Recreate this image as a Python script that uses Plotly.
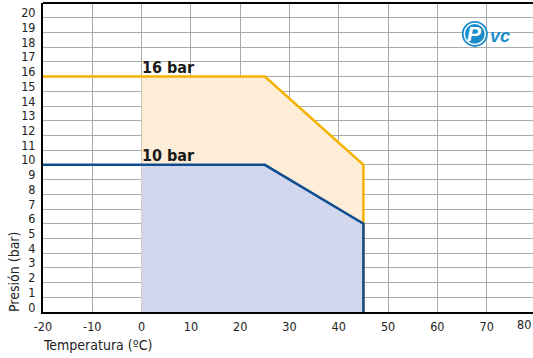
import plotly.graph_objects as go

# Data
temp_16 = [-20, 25, 45, 45]
pres_16 = [16, 16, 10, 0]
temp_10 = [-20, 25, 45, 45]
pres_10 = [10, 10, 6, 0]
fill_16_x = [0, 25, 45, 45, 0]
fill_16_y = [16, 16, 10, 0, 0]
fill_10_x = [0, 25, 45, 45, 0]
fill_10_y = [10, 10, 6, 0, 0]
x_ticks = [-20, -10, 0, 10, 20, 30, 40, 50, 60, 70, 80]
x_tick_text = ["-20", "-10", "0", "10", "20", "30", "40", "50", "60", "70", "80"]
y_ticks = list(range(0, 21))
labels = ["16 bar", "10 bar"]
label_y = [16, 10]

FONT = "DejaVu Sans Condensed, Liberation Sans Narrow, Arial Narrow, sans-serif"
ORANGE = "#F6B200"
BLUE = "#0E4D8F"
LABEL_OFFSET = 0.33  # y tick labels sit slightly above their grid lines
X_MAX = 79.4

fig = go.Figure()
fig.add_trace(go.Scatter(x=fill_16_x, y=fill_16_y, fill="toself", fillcolor="#FDEDD6",
                         line=dict(width=0), mode="lines", hoverinfo="skip"))
fig.add_trace(go.Scatter(x=fill_10_x, y=fill_10_y, fill="toself", fillcolor="#D3D7EE",
                         line=dict(width=0), mode="lines", hoverinfo="skip"))
fig.add_trace(go.Scatter(x=temp_16, y=pres_16, mode="lines", line=dict(color=ORANGE, width=2.5)))
fig.add_trace(go.Scatter(x=temp_10, y=pres_10, mode="lines", line=dict(color=BLUE, width=2.5)))

for t, yv in zip(labels, label_y):
    fig.add_annotation(x=0, y=yv, text="<b>" + t + "</b>", showarrow=False, xanchor="left", yanchor="bottom",
                       xshift=-2, yshift=-2, font=dict(family=FONT, size=16, color="#1a1a1a"))

# Last tick label at the right edge
fig.add_annotation(xref="paper", yref="paper", x=1, y=0, xshift=0, yshift=-12, text=x_tick_text[-1],
                   showarrow=False, xanchor="right", yanchor="middle", font=dict(family=FONT, size=12.5, color="#222"))

# Axis titles
fig.add_annotation(xref="paper", yref="paper", x=0, y=0, yshift=-33, text="Temperatura (ºC)", showarrow=False,
                   xanchor="left", yanchor="middle", xshift=-2, font=dict(family=FONT, size=14, color="#222"))
fig.add_annotation(xref="paper", yref="paper", x=0, y=0, text="Presión (bar)", showarrow=False, textangle=-90,
                   xanchor="center", yanchor="bottom", xshift=-29, yshift=-2,
                   font=dict(family=FONT, size=14, color="#222"))

# Logo
LX, LY = 67.6, 18.9
fig.add_shape(type="circle", xref="x", yref="y", xsizemode="pixel", ysizemode="pixel",
              xanchor=LX, yanchor=LY, x0=-13, x1=13, y0=-13, y1=13,
              fillcolor="#1A8DCB", line=dict(width=0), layer="above")
fig.add_shape(type="circle", xref="x", yref="y", xsizemode="pixel", ysizemode="pixel",
              xanchor=LX, yanchor=LY, x0=-10.5, x1=10.5, y0=-10.5, y1=10.5,
              fillcolor="rgba(0,0,0,0)", line=dict(width=1.3, color="white"), layer="above")
fig.add_annotation(x=LX, y=LY, text="<b><i>P</i></b>", showarrow=False,
                   font=dict(family="Liberation Sans, Arial", size=21, color="white"))
fig.add_annotation(x=LX, y=LY, text="<b><i>vc</i></b>", showarrow=False, xanchor="left", xshift=13, yshift=-2,
                   font=dict(family="Liberation Sans, Arial", size=18, color="#1A8DCB"))

fig.update_layout(
    width=533, height=358,
    margin=dict(l=43, r=0, t=3, b=46),
    plot_bgcolor="white", paper_bgcolor="white",
    showlegend=False,
    font=dict(family=FONT, size=12, color="#222"),
)
fig.update_xaxes(range=[-20, X_MAX], tickvals=x_ticks, ticktext=x_tick_text, showgrid=True, gridcolor="#AAAAAA",
                 gridwidth=1.3, zeroline=False, showline=True, linecolor="black", linewidth=2, ticks="",
                 ticklabelstandoff=2, automargin=False, tickfont=dict(size=12.5))
fig.update_yaxes(range=[0, 21], tickvals=[v + LABEL_OFFSET for v in y_ticks], ticktext=[str(v) for v in y_ticks],
                 showgrid=False, minor=dict(tick0=0, dtick=1, showgrid=True, gridcolor="#AAAAAA", gridwidth=1.3),
                 zeroline=False, showline=True, linecolor="black", linewidth=2, ticks="", automargin=False,
                 ticklabelstandoff=3, tickfont=dict(size=12.5))
fig.add_shape(type="line", xref="paper", yref="paper", x0=0, x1=1, y0=1, y1=1, line=dict(color="black", width=2))

fig.write_html("out.html", config={"displayModeBar": False},
               post_script="document.body.style.margin='0';document.body.style.overflow='hidden';")
